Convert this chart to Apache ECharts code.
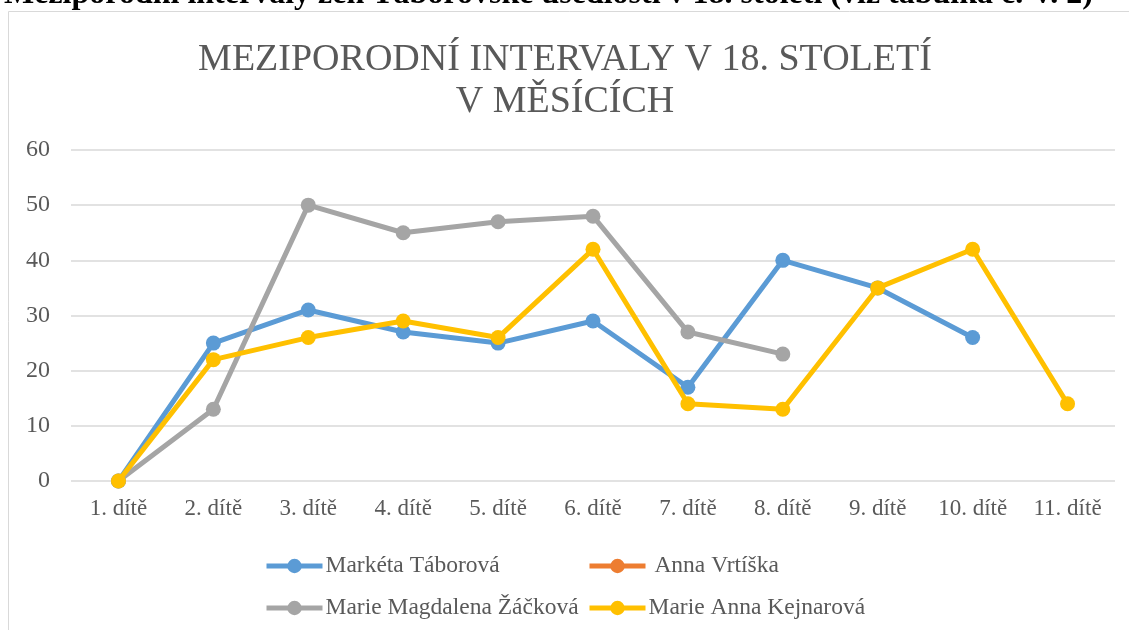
<!DOCTYPE html>
<html>
<head>
<meta charset="utf-8">
<script src="https://cdn.jsdelivr.net/npm/echarts@6/dist/echarts.min.js"></script>
<style>
  html, body { margin: 0; padding: 0; background: #fff; }
  #box { width: 1129px; height: 630px; }
</style>
</head>
<body>
<div id="box"></div>
<script>
  const categories = ['1. dítě', '2. dítě', '3. dítě', '4. dítě', '5. dítě', '6. dítě',
    '7. dítě', '8. dítě', '9. dítě', '10. dítě', '11. dítě'];
  const seriesNames = ['Markéta Táborová', 'Anna Vrtíška', 'Marie Magdalena Žáčková', 'Marie Anna Kejnarová'];
  const marketa = [0, 25, 31, 27, 25, 29, 17, 40, 35, 26, null];
  const anna = [null, null, null, null, null, null, null, null, null, null, null];
  const magdalena = [0, 13, 50, 45, 47, 48, 27, 23, null, null, null];
  const kejnarova = [0, 22, 26, 29, 26, 42, 14, 13, 35, 42, 14];
  const colors = ['#5B9BD5', '#ED7D31', '#A5A5A5', '#FFC000'];

  const font = '"Liberation Serif", "DejaVu Serif", serif';
  const values = [marketa, anna, magdalena, kejnarova];

  // shared look of the two legend columns
  const legendBase = {
    orient: 'vertical',
    top: 549,
    itemWidth: 56,
    itemHeight: 18,
    itemGap: 18,
    lineStyle: { width: 5 },
    textStyle: { color: '#595959', fontSize: 23.5, fontFamily: font, padding: [0, 0, 0, -2] },
  };

  const chart = echarts.init(document.getElementById('box'));
  chart.setOption({
    animation: false,
    color: colors,
    textStyle: { fontFamily: font },
    graphic: [
      {
        type: 'rect',
        shape: { x: 8.5, y: 11.5, width: 1200, height: 700 },
        style: { fill: 'none', stroke: '#d9d9d9', lineWidth: 1 },
        silent: true,
      },
      {
        type: 'text',
        x: 4,
        y: 11,
        style: {
          text: 'Meziporodní intervaly žen Táborovské usedlosti v 18. století (viz tabulka č. V. 2)',
          font: 'bold 32px "Liberation Serif", serif',
          fill: '#000',
          verticalAlign: 'bottom',
        },
        silent: true,
      },
    ],
    title: {
      text: 'MEZIPORODNÍ INTERVALY V 18. STOLETÍ\nV MĚSÍCÍCH',
      left: 560,
      textAlign: 'center',
      top: 34,
      textStyle: {
        fontFamily: font,
        fontSize: 38,
        fontWeight: 'normal',
        color: '#595959',
        lineHeight: 42,
      },
    },
    grid: { left: 71, right: 14, top: 150, bottom: 149 },
    xAxis: {
      type: 'category',
      data: categories,
      boundaryGap: true,
      axisLine: { show: false },
      axisTick: { show: false },
      axisLabel: { color: '#595959', fontSize: 23, fontFamily: font, margin: 16 },
    },
    yAxis: {
      type: 'value',
      min: 0,
      max: 60,
      interval: 10,
      axisLine: { show: false },
      axisTick: { show: false },
      axisLabel: { color: '#595959', fontSize: 24, fontFamily: font, margin: 21 },
      splitLine: { lineStyle: { color: '#d9d9d9', width: 1.5 } },
    },
    legend: [
      Object.assign({}, legendBase, {
        data: [seriesNames[0], seriesNames[2]],
        left: 259,
      }),
      Object.assign({}, legendBase, {
        data: [seriesNames[1], seriesNames[3]],
        left: 582,
        formatter: (n) => (n === 'Anna Vrtíška' ? ' ' + n : n),
      }),
    ],
    series: seriesNames.map((name, i) => ({
      name: name,
      type: 'line',
      data: values[i],
      symbol: 'circle',
      symbolSize: 15,
      lineStyle: { width: 5 },
      connectNulls: false,
      z: i === 3 ? 4 : 2,
    })),
  });
</script>
</body>
</html>
